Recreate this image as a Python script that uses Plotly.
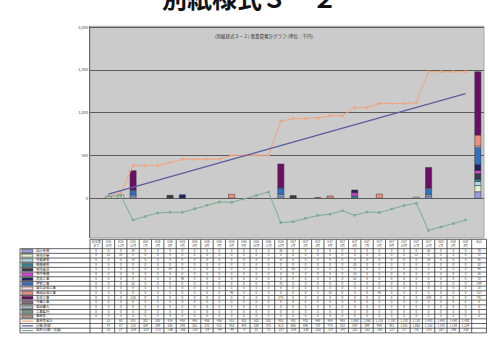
import plotly.graph_objects as go

# ---------------- data ----------------
# column headers of the data table (two lines each); index 0 = carried over, last = total
head_top = ["前年度", "H25", "H25", "H25", "H26", "H26", "H26", "H26", "H26", "H26",
            "H26", "H26", "H26", "H26", "H26", "H26", "H27", "H27", "H27", "H27",
            "H27", "H27", "H27", "H27", "H27", "H27", "H27", "H27", "H28", "H28",
            "H28", "合計"]
head_bot = ["まで", "10月", "11月", "12月", "1月", "2月", "3月", "4月", "5月", "6月",
            "7月", "8月", "9月", "10月", "11月", "12月", "1月", "2月", "3月", "4月",
            "5月", "6月", "7月", "8月", "9月", "10月", "11月", "12月", "1月", "2月",
            "3月", ""]

# monthly expenditure per item (千円), stacked bottom -> top
s_sekkei  = [0, 0, 0, 24, 0, 0, 0, 0, 0, 0,   0, 0, 0, 0, 0, 26, 0, 0, 0, 0,   0, 0, 0, 0, 0, 0, 0, 26, 0, 0,   0]
s_sokuryo = [0, 22, 38, 0, 0, 0, 0, 0, 0, 0,  0, 0, 0, 0, 0, 0, 0, 0, 0, 0,    0, 0, 0, 0, 0, 0, 12, 0, 0, 0,   0]
s_chishitsu = [0, 0, 0, 14, 0, 0, 0, 0, 0, 0, 0, 0, 0, 0, 0, 18, 0, 0, 0, 0,   0, 0, 0, 0, 0, 0, 0, 16, 0, 0,   0]
s_hosho   = [0, 0, 0, 0, 0, 0, 0, 0, 0, 0,    0, 0, 0, 0, 0, 0, 0, 0, 0, 0,    0, 28, 0, 0, 0, 0, 0, 0, 0, 0,   0]
s_yochi   = [0, 0, 0, 0, 0, 0, 34, 0, 0, 0,   0, 0, 0, 0, 0, 0, 30, 0, 0, 0,   0, 0, 0, 0, 0, 0, 0, 0, 0, 0,    0]
s_bukken  = [0, 0, 0, 0, 0, 0, 0, 0, 0, 0,    0, 0, 0, 0, 0, 0, 0, 0, 0, 0,    0, 35, 0, 0, 0, 0, 0, 0, 0, 0,   0]
s_zosei   = [0, 0, 0, 0, 0, 0, 0, 40, 0, 0,   0, 0, 0, 0, 0, 0, 0, 0, 0, 0,    0, 32, 0, 0, 0, 0, 0, 0, 0, 0,   0]
s_kenchiku = [0, 0, 0, 52, 0, 0, 0, 0, 0, 0,  0, 0, 0, 0, 0, 75, 0, 0, 0, 0,   0, 0, 0, 0, 0, 0, 0, 72, 0, 0,   0]
s_denki   = [0, 0, 0, 6, 0, 0, 0, 0, 0, 0,    0, 0, 0, 0, 0, 6, 0, 0, 0, 0,    0, 0, 0, 0, 0, 0, 0, 6, 0, 0,    0]
s_kikai   = [0, 0, 0, 0, 0, 0, 0, 0, 0, 0,    0, 46, 0, 0, 0, 0, 0, 0, 8, 25,  0, 0, 0, 48, 0, 0, 0, 0, 0, 0,   0]
s_hontai  = [0, 0, 0, 226, 0, 0, 0, 0, 0, 0,  0, 0, 0, 0, 0, 275, 0, 0, 0, 0,  0, 0, 0, 0, 0, 0, 0, 240, 0, 0,  0]
s_gaiko   = [0] * 31
s_bihin   = [0] * 31
s_kanri   = [0] * 31
s_jimu    = [0] * 31

# cumulative actual, straight-line plan and their difference (plan - actual)
cum_actual = [None, 22, 60, 382, 382, 382, 416, 456, 456, 456, 456, 502, 502, 502, 502,
              902, 932, 932, 940, 965, 965, 1060, 1060, 1108, 1108, 1108, 1120, 1480, 1480, 1480, 1480]
plan_line = [None, 47, 87, 128, 169, 209, 250, 290, 331, 372, 412, 453, 493, 534, 575,
             615, 656, 696, 737, 778, 818, 859, 899, 940, 981, 1021, 1062, 1102, 1143, 1184, 1224]
diff_line = [None, 25, 27, -254, -213, -173, -166, -166, -125, -84, -44, -49, -9, 32, 73,
             -287, -276, -236, -203, -187, -147, -201, -161, -168, -127, -87, -58, -378, -337, -296, -256]

bar_series = [
    ("設計業務", "#9a9ade", s_sekkei),
    ("用地測量", "#e2f1d2", s_sokuryo),
    ("地質調査", "#aadcea", s_chishitsu),
    ("補償調査", "#2f8796", s_hosho),
    ("用地買収", "#3b3b4b", s_yochi),
    ("物件補償", "#e040e0", s_bukken),
    ("造成工事", "#22225e", s_zosei),
    ("建築工事", "#3370c2", s_kenchiku),
    ("電気設備工事", "#f4d8de", s_denki),
    ("機械設備工事", "#ee9080", s_kikai),
    ("本体工事", "#6b0f66", s_hontai),
    ("外構工事", "#8a6f80", s_gaiko),
    ("備品購入", "#a8b4c0", s_bihin),
    ("工事監理", "#7a9a8a", s_kanri),
    ("事務費", "#b59a8a", s_jimu),
]
line_series = [
    ("事業費累計", "#f2a47c", cum_actual, True),
    ("計画(直線)", "#5c5ca2", plan_line, False),
    ("差額(計画－実績)", "#7aab96", diff_line, True),
]

# ---------------- geometry ----------------
W, H = 488, 341
PLOT_L, PLOT_R, PLOT_T, PLOT_B = 90, 484, 23.5, 237
NCOL = len(head_top)
unit = (PLOT_R - PLOT_L) / NCOL            # px per category
x2_lo = -0.5 - PLOT_L / unit
x2_hi = NCOL - 0.5 + (W - PLOT_R) / unit
ROW_H = 4.72                                # px per table row
TBL_L = x2_lo + 20 / unit                   # left edge of legend column
TBL_R = NCOL - 0.5 + 2.5 / unit
HDR_T, HDR_B = 0.3, 2.3

fig = go.Figure()
xs = list(range(NCOL))

for name, color, vals in bar_series:
    full = vals + [sum(vals)]
    fig.add_bar(x=xs, y=[v if v else None for v in full], name=name, width=0.5,
                marker=dict(color=color, line=dict(color="#333", width=0.5)))

for name, color, vals, with_marker in line_series:
    fig.add_scatter(x=xs[:len(vals)], y=vals, name=name,
                    mode="lines+markers" if with_marker else "lines",
                    line=dict(color=color, width=1 if with_marker else 1.3),
                    marker=dict(symbol="square", size=2.5, color=color))

# ---------------- data table ----------------
rows = [(n, c, v, "bar") for n, c, v in bar_series] + \
       [(n, c, v, "line") for n, c, v, _ in line_series]
tx, ty, tt = [], [], []
for j in range(NCOL):
    cx = j if j < NCOL - 1 else (NCOL - 1.5 + TBL_R) / 2
    tx += [cx, cx]
    ty += [0.85, 1.8]
    tt += [head_top[j], head_bot[j]]
for r, (name, color, vals, kind) in enumerate(rows):
    yc = HDR_B + r + 0.5
    cells = list(vals) + ([sum(vals)] if kind == "bar" else [None])
    for j, v in enumerate(cells):
        if v is None:
            continue
        cx = j if j < NCOL - 1 else (NCOL - 1.5 + TBL_R) / 2
        tx.append(cx)
        ty.append(yc)
        tt.append(f"{v:,}")
fig.add_scatter(x=tx, y=ty, text=tt, mode="text", xaxis="x2", yaxis="y2",
                textfont=dict(size=3, color="#444"), hoverinfo="skip")

names_y = [HDR_B + r + 0.5 for r in range(len(rows))]
fig.add_scatter(x=[TBL_L + 1.3] * len(rows), y=names_y, text=[r[0] for r in rows],
                mode="text", textposition="middle right", xaxis="x2", yaxis="y2",
                textfont=dict(size=3.3, color="#333"), hoverinfo="skip")

shapes = []
# gray plot area of the chart, beneath its gridlines
shapes.append(dict(type="rect", xref="paper", yref="paper", layer="below",
                   x0=PLOT_L / W, x1=PLOT_R / W, y0=1 - PLOT_B / H, y1=1 - PLOT_T / H,
                   fillcolor="#cbcbcb", line=dict(color="#9a9a9a", width=0.8)))
grid = dict(color="#3a3a3a", width=0.8)
shapes.append(dict(type="line", xref="x2", yref="y2", x0=-0.5, x1=TBL_R, y0=HDR_T, y1=HDR_T, line=grid))
for r in range(len(rows) + 1):
    yy = HDR_B + r
    shapes.append(dict(type="line", xref="x2", yref="y2", x0=TBL_L, x1=TBL_R, y0=yy, y1=yy, line=grid))
for j in range(NCOL):
    xx = j - 0.5
    shapes.append(dict(type="line", xref="x2", yref="y2", x0=xx, x1=xx, y0=HDR_T,
                       y1=HDR_B + len(rows), line=grid))
shapes.append(dict(type="line", xref="x2", yref="y2", x0=TBL_R, x1=TBL_R, y0=HDR_T,
                   y1=HDR_B + len(rows), line=grid))
shapes.append(dict(type="line", xref="x2", yref="y2", x0=TBL_L, x1=TBL_L, y0=HDR_B,
                   y1=HDR_B + len(rows), line=grid))
# legend keys in the table
for r, (name, color, vals, kind) in enumerate(rows):
    yc = HDR_B + r + 0.5
    k0, k1 = TBL_L + 0.15, TBL_L + 1.05
    if kind == "bar":
        shapes.append(dict(type="rect", xref="x2", yref="y2", x0=k0, x1=k1, y0=yc - 0.32,
                           y1=yc + 0.32, fillcolor=color, line=dict(color="#333", width=0.5)))
    else:
        shapes.append(dict(type="line", xref="x2", yref="y2", x0=k0, x1=k1, y0=yc, y1=yc,
                           line=dict(color=color, width=1.2)))

annotations = [
    dict(text="<b>別紙様式３－２</b>", x=250 / W, y=1 + 6 / H, xref="paper", yref="paper",
         xanchor="center", yanchor="middle", showarrow=False,
         font=dict(size=25, color="#111", family="Noto Sans CJK JP")),
    dict(text="(別紙様式３－２) 事業費累計グラフ (単位：千円)", x=264 / W, y=1 - 34 / H,
         xref="paper", yref="paper", xanchor="center", yanchor="middle", showarrow=False,
         font=dict(size=4.5, color="#333", family="Noto Sans CJK JP")),
]

fig.update_layout(
    width=W, height=H, autosize=False, margin=dict(l=0, r=0, t=0, b=0, pad=0),
    paper_bgcolor="white", plot_bgcolor="rgba(0,0,0,0)", showlegend=False,
    barmode="relative", bargap=0.5,
    font=dict(family="Noto Sans CJK JP", color="#222"),
    xaxis=dict(domain=[PLOT_L / W, PLOT_R / W], range=[-0.5, NCOL - 0.5],
               showticklabels=False, showgrid=False, zeroline=False, ticks=""),
    yaxis=dict(domain=[1 - PLOT_B / H, 1 - PLOT_T / H], range=[-465, 2012],
               tickvals=[0, 500, 1000, 1500, 2000], tickformat=",d",
               tickfont=dict(size=4, color="#444"), ticks="",
               gridcolor="#5c5c5c", gridwidth=1, zeroline=True, zerolinecolor="#5c5c5c",
               zerolinewidth=1, showline=True, linecolor="#6a6a6a", linewidth=1),
    xaxis2=dict(domain=[0, 1], range=[x2_lo, x2_hi], anchor="y2", visible=False),
    yaxis2=dict(domain=[0, 1 - PLOT_B / H], range=[(H - PLOT_B) / ROW_H, 0],
                anchor="x2", visible=False),
    shapes=shapes, annotations=annotations,
)

fig.write_html("out.html")
